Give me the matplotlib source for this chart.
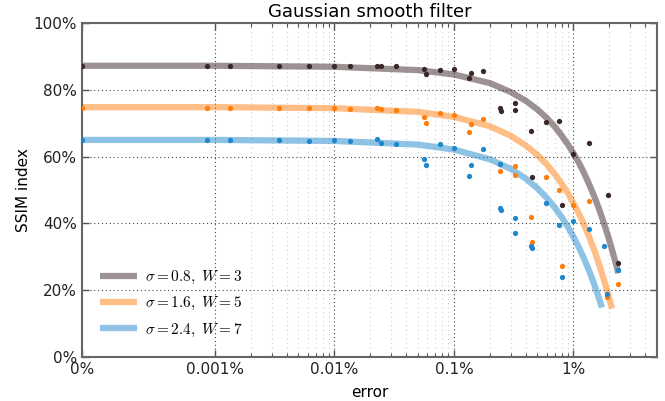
import matplotlib
matplotlib.use("Agg")
import matplotlib.pyplot as plt
from matplotlib.ticker import FixedLocator, FixedFormatter, NullFormatter

plt.rcParams['mathtext.fontset'] = 'cm'
plt.rcParams['font.family'] = ['DejaVu Sans']

# ---------------- data (error in %, SSIM in %) ----------------
x_dark = [0, 0.00094, 0.00133, 0.00343, 0.00615, 0.00987, 0.01352, 0.02252, 0.02465, 0.03288,
          0.05655, 0.05875, 0.0769, 0.1, 0.1334, 0.1385, 0.1755, 0.2432, 0.2466, 0.3224,
          0.3224, 0.4385, 0.4529, 0.5878, 0.760, 0.805, 0.994, 1.352, 1.93, 2.37]
y_dark = [87.2, 87.2, 87.2, 87.2, 87.2, 87.2, 87.2, 87.1, 87.1, 87.1,
          86.1, 84.7, 86.0, 86.3, 83.5, 84.9, 85.6, 74.5, 73.7, 76.0,
          74.0, 67.7, 53.8, 70.4, 70.7, 45.5, 60.8, 64.0, 48.4, 28.2]

x_orange = [0, 0.00094, 0.00133, 0.00343, 0.00615, 0.00987, 0.01352, 0.02252, 0.02465, 0.03288,
            0.05655, 0.05875, 0.0769, 0.1, 0.1334, 0.1385, 0.1755, 0.2432, 0.3224, 0.3224,
            0.4385, 0.4529, 0.5878, 0.760, 0.805, 0.994, 1.352, 1.91, 2.37]
y_orange = [74.7, 74.7, 74.6, 74.6, 74.6, 74.6, 74.3, 74.6, 74.3, 74.0,
            71.8, 70.1, 73.0, 72.5, 67.5, 69.7, 71.3, 55.8, 57.2, 54.4,
            41.8, 34.5, 53.8, 50.0, 27.2, 45.5, 46.8, 18.1, 21.9]

x_blue = [0, 0.00094, 0.00133, 0.00343, 0.00615, 0.00987, 0.01352, 0.02252, 0.02465, 0.03288,
          0.05655, 0.05875, 0.0769, 0.1, 0.1334, 0.1385, 0.1755, 0.2432, 0.2432, 0.2466,
          0.3224, 0.3224, 0.4385, 0.4529, 0.5878, 0.760, 0.805, 0.994, 1.352, 1.81,
          1.91, 2.37]
y_blue = [65.0, 65.0, 65.0, 65.0, 64.7, 65.0, 64.7, 65.2, 64.0, 63.7,
          59.2, 57.4, 63.7, 62.7, 54.2, 57.4, 62.2, 57.9, 44.5, 44.1,
          41.5, 37.0, 33.3, 32.7, 46.0, 39.5, 23.9, 40.7, 38.2, 33.3,
          19.0, 26.0]

# fitted curves
cx_dark = [0, 0.001, 0.01, 0.05, 0.1, 0.2, 0.3, 0.4, 0.5, 0.6, 0.7, 0.8, 0.9, 1.0,
           1.1, 1.2, 1.35, 1.5, 1.65, 1.8, 1.95, 2.1, 2.25, 2.37]
cy_dark = [87.2, 87.2, 86.9, 85.9, 84.6, 82.0, 79.3, 76.7, 74.1, 71.5, 68.9, 66.2, 63.6, 61.0,
           58.4, 55.8, 51.8, 47.9, 44.0, 40.0, 36.1, 32.2, 28.3, 25.1]
cx_orange = [0, 0.001, 0.01, 0.05, 0.1, 0.2, 0.3, 0.4, 0.5, 0.6, 0.7, 0.8, 0.9, 1.0,
             1.1, 1.2, 1.35, 1.5, 1.65, 1.8, 1.95, 2.1]
cy_orange = [74.8, 74.8, 74.5, 73.4, 71.9, 69.1, 66.2, 63.3, 60.5, 57.6, 54.7, 51.8, 49.0, 46.1,
             43.2, 40.4, 36.1, 31.8, 27.4, 23.1, 18.8, 14.5]
cx_blue = [0, 0.001, 0.01, 0.05, 0.1, 0.2, 0.3, 0.4, 0.5, 0.6, 0.7, 0.8, 0.9, 1.0,
           1.1, 1.2, 1.3, 1.4, 1.5, 1.6, 1.73]
cy_blue = [65.0, 65.0, 64.7, 63.6, 62.1, 59.2, 56.3, 53.4, 50.5, 47.6, 44.7, 41.8, 38.9, 36.0,
           33.1, 30.2, 27.3, 24.4, 21.5, 18.6, 14.8]

labels = [r'$\sigma=0.8,\ W=3$', r'$\sigma=1.6,\ W=5$', r'$\sigma=2.4,\ W=7$']
colors = ['#3b2628', '#ff7f0e', '#1f88cc']

x_ticks = [0, 0.001, 0.01, 0.1, 1]
x_tick_labels = ['0%', '0.001%', '0.01%', '0.1%', '1%']
y_ticks = [0, 20, 40, 60, 80, 100]
y_tick_labels = ['0%', '20%', '40%', '60%', '80%', '100%']

# ---------------- plot ----------------
fig = plt.figure(figsize=(6.65, 4.01), dpi=100)
ax = fig.add_axes([0.1233, 0.1097, 0.8647, 0.8329])

curves = [(cx_dark, cy_dark), (cx_orange, cy_orange), (cx_blue, cy_blue)]
points = [(x_dark, y_dark), (x_orange, y_orange), (x_blue, y_blue)]
for (cx, cy), c, lab in zip(curves, colors, labels):
    ax.plot(cx, cy, color=c, alpha=0.5, lw=4.5, label=lab, zorder=2,
            solid_capstyle='butt')
for (px, py), c in zip(points, colors):
    ax.plot(px, py, 'o', color=c, ms=3.8, mew=0, zorder=3)

ax.set_xscale('symlog', linthresh=0.001, linscale=1)
ax.set_xlim(0, 5)
ax.set_ylim(0, 100)

minor = []
for dec in [0.001, 0.01, 0.1, 1]:
    for k in range(2, 10):
        v = dec * k
        if v < 5:
            minor.append(v)
ax.xaxis.set_major_locator(FixedLocator(x_ticks))
ax.xaxis.set_major_formatter(FixedFormatter(x_tick_labels))
ax.xaxis.set_minor_locator(FixedLocator(minor))
ax.xaxis.set_minor_formatter(NullFormatter())
ax.yaxis.set_major_locator(FixedLocator(y_ticks))
ax.yaxis.set_major_formatter(FixedFormatter(y_tick_labels))

ax.tick_params(axis='both', which='both', direction='in', top=True, right=True,
               labelsize=11, colors='#555555', labelcolor='#222222')
ax.tick_params(which='major', length=5, width=1)
ax.tick_params(which='minor', length=3, width=0.8)

ax.grid(True, which='major', color='#444444', linestyle=(0, (1, 2.5)), lw=0.8)
ax.grid(True, which='minor', axis='x', color='#d0d0d0', linestyle=(0, (1, 3)), lw=0.8)
ax.set_axisbelow(True)

for s in ax.spines.values():
    s.set_color('#666666')
    s.set_linewidth(1.5)

ax.set_title('Gaussian smooth filter', fontsize=13, pad=4)
ax.set_xlabel('error', fontsize=11, labelpad=6)
ax.set_ylabel('SSIM index', fontsize=11, labelpad=2)

leg = ax.legend(loc='lower left', frameon=False, fontsize=11, handlelength=2.4,
                labelspacing=0.6, borderaxespad=0.8, handletextpad=0.5)

fig.savefig('out.png', dpi=100)
